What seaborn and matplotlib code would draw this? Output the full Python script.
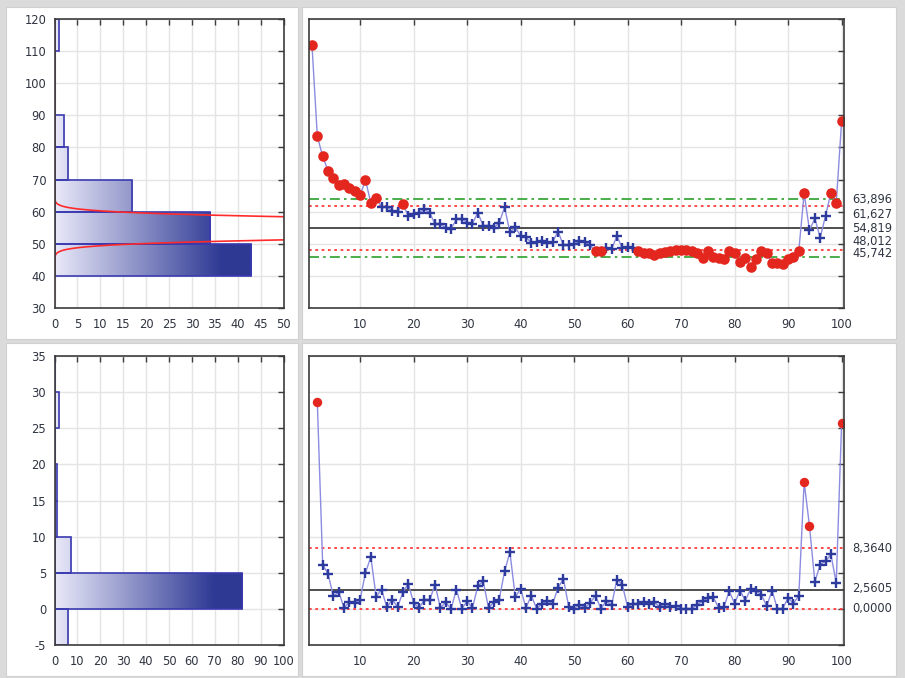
import numpy as np
import pandas as pd
import matplotlib
matplotlib.use("Agg")
import matplotlib.pyplot as plt
import seaborn as sns
from matplotlib.patches import Rectangle
from matplotlib.colors import LinearSegmentedColormap
import matplotlib.transforms as mtransforms

sns.set_theme(style="white")
plt.rcParams["font.family"] = ["DejaVu Sans"]
plt.rcParams["axes.unicode_minus"] = False

# ---------------- data ----------------
obs = list(range(1, 101))
individuals = [
    111.9, 83.5, 77.2, 72.8, 70.6, 68.3, 68.7, 67.5, 66.4, 65.1,
    69.8, 62.8, 64.4, 61.5, 61.6, 60.2, 59.9, 62.5, 58.6, 59.4,
    59.7, 60.7, 59.7, 56.1, 56.1, 55.0, 54.7, 57.6, 57.8, 56.6,
    56.3, 59.7, 55.6, 55.6, 55.0, 56.5, 61.4, 53.6, 55.2, 52.4,
    52.0, 50.3, 50.4, 51.0, 50.1, 50.7, 53.8, 49.5, 49.5, 49.9,
    50.8, 50.5, 49.5, 47.7, 47.7, 48.8, 48.3, 52.4, 48.7, 49.1,
    48.7, 47.9, 47.2, 47.1, 46.4, 47.1, 47.5, 47.7, 48.0, 48.0,
    48.0, 47.8, 47.2, 45.7, 47.6, 46.0, 45.7, 45.2, 47.8, 47.2,
    44.3, 45.7, 42.9, 45.2, 47.6, 47.2, 43.9, 43.9, 43.6, 45.4,
    46.0, 47.9, 65.7, 54.2, 57.9, 51.9, 58.7, 65.9, 62.6, 88.1,
]
ind_flagged = [1, 2, 3, 4, 5, 6, 7, 8, 9, 10, 11, 12, 13, 18, 54, 55,
               62, 63, 64, 65, 66, 67, 68, 69, 70, 71, 72, 73, 74, 75, 76,
               77, 78, 79, 80, 81, 82, 83, 84, 85, 86, 87, 88, 89, 90, 91,
               92, 93, 98, 99, 100]

mr_obs = list(range(2, 101))
moving_range = [
    28.6, 6.14, 4.85, 1.75, 2.35, 0.14, 0.97, 0.83, 1.29,
    4.99, 7.2, 1.66, 2.68, 0.23, 1.29, 0.27, 2.3, 3.5, 0.83,
    0.14, 1.2, 1.2, 3.37, 0.14, 0.92, 0.0, 2.68, 0.04, 1.06,
    0.14, 3.14, 3.83, 0.14, 0.92, 1.29, 5.2, 7.85, 1.66, 2.77,
    0.14, 1.84, 0.0, 0.74, 1.06, 0.74, 2.91, 4.16, 0.27, 0.05,
    0.6, 0.14, 0.83, 1.84, 0.0, 1.1, 0.5, 4.06, 3.37, 0.27,
    0.74, 0.74, 0.92, 0.74, 0.92, 0.27, 0.74, 0.23, 0.46, 0.0,
    0.0, 0.0, 0.6, 1.06, 1.52, 1.66, 0.14, 0.27, 2.45, 0.74,
    2.54, 1.15, 2.77, 2.45, 1.98, 0.37, 2.54, 0.0, 0.05, 1.52,
    0.74, 1.84, 17.56, 11.46, 3.74, 6.14, 6.6, 7.53, 3.6, 25.66,
]
mr_flagged = [2, 93, 94, 100]

ind_limit_values = [63.896, 61.627, 54.819, 48.012, 45.742]
ind_limit_styles = ["outer", "inner", "center", "inner", "outer"]
ind_label_offsets = [0, -5.5, 0, 6, 2.7]

mr_limit_values = [8.3640, 2.5605, 0.0]
mr_limit_styles = ["inner", "center", "inner"]
mr_label_offsets = [0, 1, 0]

ind_hist_edges = [40, 50, 60, 70, 80, 90, 100, 110, 120]
ind_hist_counts = [43, 34, 17, 3, 2, 0, 0, 1]
mr_hist_edges = [-5, 0, 5, 10, 15, 20, 25, 30, 35]
mr_hist_counts = [6, 82, 7, 1, 1, 0, 2, 0]

fit_mean = 54.819
fit_sigma = 2.2692
fit_scale = 100 * 10  # n * bin width

# ---------------- styling ----------------
FIG_BG = "#dbdbdb"
GRID = "#e4e4e4"
SPINE = "#3c3c3c"
TEXT = "#2e3440"
LINE = "#8c8ce0"
NAVY = "#2d3a9e"
RED = "#e3271f"
EDGE = "#3a3ab0"
LINE_STYLES = {
    "center": dict(color="#303030", lw=1.2, ls="-"),
    "inner": dict(color="#ff3b3b", lw=1.3, ls=(0, (1.5, 2))),
    "outer": dict(color="#2aa02a", lw=1.2, ls=(0, (6, 2.5, 1.5, 2.5))),
}
grad_cmap = LinearSegmentedColormap.from_list("g", ["#e8e8f8", "#2e3994"])

W, H = 905, 678
fig = plt.figure(figsize=(W / 100, H / 100), dpi=100, facecolor=FIG_BG)

# white panels
for (x0, y0, x1, y1) in [(6, 7, 298, 339), (302, 7, 896, 339),
                         (6, 343, 298, 676), (302, 343, 896, 676)]:
    fig.patches.append(Rectangle((x0 / W, 1 - y1 / H), (x1 - x0) / W, (y1 - y0) / H,
                                 transform=fig.transFigure, facecolor="white",
                                 edgecolor="#d0d0d0", lw=0.8, zorder=-10))


def axes_px(x0, y0, x1, y1):
    ax = fig.add_axes([x0 / W, 1 - y1 / H, (x1 - x0) / W, (y1 - y0) / H])
    ax.set_zorder(5)
    return ax


ax_h1 = axes_px(54.5, 19, 283.5, 308)
ax_c1 = axes_px(309.3, 19, 844, 308)
ax_h2 = axes_px(54.5, 356, 283.5, 645)
ax_c2 = axes_px(309.3, 356, 844, 645)


def base_style(ax, labels_left=True):
    ax.set_facecolor("white")
    ax.grid(True, color=GRID, lw=1.0, zorder=0)
    ax.set_axisbelow(True)
    for s in ax.spines.values():
        s.set_color(SPINE)
        s.set_linewidth(1.2)
        s.set_zorder(10)
    ax.tick_params(direction="in", length=4, width=1, colors=SPINE,
                   top=True, right=True, labelsize=8.3, labelcolor=TEXT,
                   labelleft=labels_left, pad=6)
    ax.tick_params(axis="x", pad=7)
    ax.set_xlabel("")
    ax.set_ylabel("")


def gradient_hist(ax, edges, counts):
    centers = [(a + b) / 2 for a, b in zip(edges[:-1], edges[1:])]
    n0 = len(ax.patches)
    sns.histplot(y=centers, weights=counts, bins=edges, ax=ax, stat="count",
                 element="bars", fill=True, zorder=3)
    gmax = max(counts)
    grad = np.clip(np.linspace(0, 1, 256) / 0.85, 0, 1)[None, :]
    for p in ax.patches[n0:]:
        p.set_facecolor("none")
        p.set_alpha(None)
        p.set_edgecolor(EDGE)
        p.set_linewidth(1.2)
        p.set_zorder(4)
        w = p.get_width()
        if w <= 0:
            continue
        y0 = p.get_y()
        y1 = y0 + p.get_height()
        im = ax.imshow(grad, extent=[0, gmax, y0, y1], cmap=grad_cmap, vmin=0, vmax=1,
                       aspect="auto", origin="lower", interpolation="bilinear", zorder=3)
        im.set_clip_path(p)


# ---- top-left histogram ----
gradient_hist(ax_h1, ind_hist_edges, ind_hist_counts)
yy = np.linspace(30, 120, 2000)
pdf = fit_scale * np.exp(-0.5 * ((yy - fit_mean) / fit_sigma) ** 2) / (fit_sigma * np.sqrt(2 * np.pi))
sns.lineplot(x=pdf, y=yy, ax=ax_h1, sort=False, estimator=None, color="#ff2a2a", lw=1.2, zorder=6)
ax_h1.set_xlim(0, 50)
ax_h1.set_ylim(30, 120)
ax_h1.set_xticks(range(0, 51, 5))
ax_h1.set_yticks(range(30, 121, 10))
base_style(ax_h1)

# ---- bottom-left histogram ----
gradient_hist(ax_h2, mr_hist_edges, mr_hist_counts)
ax_h2.set_xlim(0, 100)
ax_h2.set_ylim(-5, 35)
ax_h2.set_xticks(range(0, 101, 10))
ax_h2.set_yticks(range(-5, 36, 5))
base_style(ax_h2)


# ---- control charts ----
def control_chart(ax, xs, ys, flagged, limits, styles, offsets, fmt, ylim, yticks, s_dot):
    df = pd.DataFrame({"x": xs, "y": ys})
    df["out"] = df["x"].isin(flagged)
    for v, st in zip(limits, styles):
        ax.axhline(v, zorder=2, **LINE_STYLES[st])
    sns.lineplot(data=df, x="x", y="y", ax=ax, color=LINE, lw=1.0, zorder=3,
                 estimator=None, sort=False)
    sns.scatterplot(data=df[~df["out"]], x="x", y="y", ax=ax, marker="+", s=50,
                    color=NAVY, linewidth=1.7, zorder=4)
    sns.scatterplot(data=df[df["out"]], x="x", y="y", ax=ax, marker="o", s=s_dot,
                    color=RED, edgecolor=RED, linewidth=0, zorder=5)
    ax.set_xlim(0.5, 100.45)
    ax.set_ylim(*ylim)
    ax.set_xticks(range(10, 101, 10))
    ax.set_yticks(yticks)
    base_style(ax, labels_left=False)
    trans = mtransforms.blended_transform_factory(ax.transAxes, ax.transData)
    for v, off in zip(limits, offsets):
        ax.annotate(fmt(v), xy=(1, v), xycoords=trans, xytext=(6, off),
                    textcoords="offset points", ha="left", va="center",
                    fontsize=8.3, color=TEXT, annotation_clip=False)


control_chart(ax_c1, obs, individuals, ind_flagged, ind_limit_values, ind_limit_styles,
              ind_label_offsets, lambda v: f"{v:.3f}".replace(".", ","),
              (30, 120), range(30, 121, 10), 58)
control_chart(ax_c2, mr_obs, moving_range, mr_flagged, mr_limit_values, mr_limit_styles,
              mr_label_offsets, lambda v: f"{v:.4f}".replace(".", ","),
              (-5, 35), range(-5, 36, 5), 46)

fig.savefig("out.png", dpi=100, facecolor=FIG_BG)
